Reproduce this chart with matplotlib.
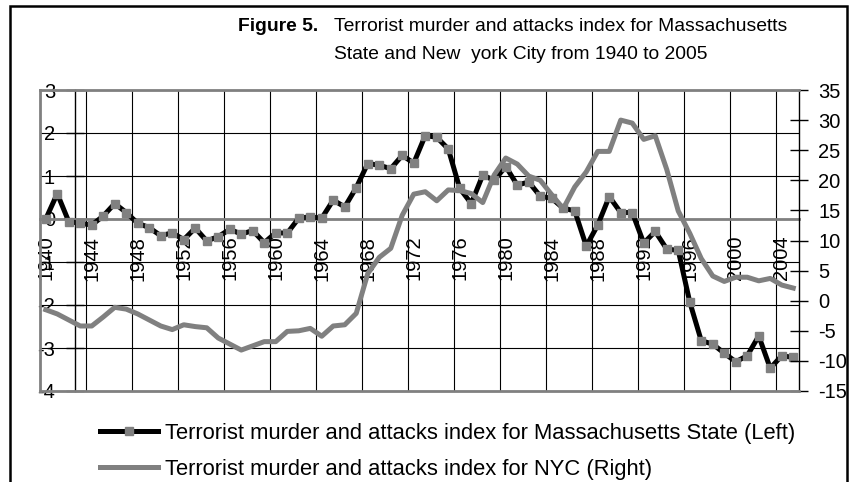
import matplotlib
matplotlib.use("Agg")
import matplotlib.pyplot as plt
from matplotlib.patches import Rectangle

plt.rcParams['font.family'] = ['Liberation Sans', 'DejaVu Sans']
plt.rcParams['axes.unicode_minus'] = False

# Data
years = list(range(1940, 2006))

# Massachusetts State index (left axis)
ma_index = [0.00, 0.59, -0.06, -0.10, -0.14, 0.07, 0.36, 0.15, -0.10, -0.20,
            -0.39, -0.32, -0.48, -0.21, -0.51, -0.41, -0.24, -0.35, -0.27, -0.55,
            -0.32, -0.33, 0.02, 0.05, 0.02, 0.44, 0.28, 0.73, 1.29, 1.25,
            1.17, 1.48, 1.30, 1.94, 1.90, 1.63, 0.71, 0.36, 1.02, 0.90,
            1.22, 0.79, 0.86, 0.53, 0.48, 0.25, 0.19, -0.63, -0.14, 0.52,
            0.15, 0.15, -0.56, -0.29, -0.70, -0.73, -1.93, -2.83, -2.91, -3.12,
            -3.32, -3.18, -2.72, -3.47, -3.18, -3.22]

# NYC index (right axis)
nyc_index = [-1.5, -2.2, -3.2, -4.2, -4.2, -2.7, -1.1, -1.4, -2.2, -3.2,
             -4.2, -4.8, -4.0, -4.3, -4.5, -6.2, -7.2, -8.2, -7.5, -6.8,
             -6.8, -5.1, -5.0, -4.6, -5.9, -4.2, -4.0, -2.1, 4.5, 7.2,
             8.7, 14.2, 17.7, 18.1, 16.6, 18.4, 18.3, 17.8, 16.3, 20.9,
             23.7, 22.7, 20.7, 20.0, 17.6, 15.3, 18.9, 21.4, 24.8, 24.8,
             30.0, 29.5, 26.8, 27.4, 21.8, 14.9, 11.2, 7.0, 4.1, 3.2,
             3.9, 3.9, 3.3, 3.7, 2.6, 2.1]

left_ticks = [-4, -3, -2, -1, 0, 1, 2, 3]
right_ticks = [-15, -10, -5, 0, 5, 10, 15, 20, 25, 30, 35]
label_years = list(range(1940, 2005, 4))
grid_years = [y - 0.5 for y in range(1944, 2005, 4)]

ma_label = 'Terrorist murder and attacks index for Massachusetts State (Left)'
nyc_label = 'Terrorist murder and attacks index for NYC (Right)'

fig = plt.figure(figsize=(8.5, 4.82), dpi=100)
ax = fig.add_axes([40 / 850, 1 - 391 / 482, 759 / 850, 301 / 482])
ax2 = ax.twinx()

ma_line, = ax.plot(years, ma_index, color='black', lw=3.6, marker='s', ms=6,
                   mfc='#808080', mec='#808080', zorder=3)
nyc_line, = ax2.plot(years, nyc_index, color='#808080', lw=3.6)

ax.set_xlim(1939.5, 2005.5)
ax.set_ylim(-4, 3)
ax2.set_ylim(-15, 35)

# left value axis crosses the category axis a few years in
ax.spines['left'].set_position(('data', 1942.5))
ax.spines['left'].set_linewidth(1)
ax.spines['bottom'].set_position(('data', 0))
ax.spines['bottom'].set_color('#808080')
ax.spines['bottom'].set_linewidth(2)
ax.spines['top'].set_visible(False)
ax.spines['right'].set_visible(False)

for side in ['left', 'top', 'bottom']:
    ax2.spines[side].set_color('#808080')
    ax2.spines[side].set_linewidth(2)
ax2.spines['right'].set_linewidth(1)

ax.set_yticks(left_ticks)
ax.tick_params(axis='y', direction='inout', length=13, width=1, labelsize=14.5, pad=7.5)
ax.set_xticks(label_years)
ax.set_xticks(grid_years, minor=True)
ax.tick_params(axis='x', which='major', length=0, labelsize=14.5, pad=12, labelrotation=90)
ax.tick_params(axis='x', which='minor', length=0)
ax.grid(axis='y', color='black', lw=0.8)
ax.grid(axis='x', which='minor', color='black', lw=0.8)

ax2.set_yticks(right_ticks)
ax2.tick_params(axis='y', direction='inout', length=13, width=1, labelsize=14.5, pad=7.5)

# title with hanging indent
fig.text(238 / 850, 1 - 31 / 482, 'Figure 5.', fontsize=13.9, weight='bold', va='baseline')
fig.text(334 / 850, 1 - 31 / 482, 'Terrorist murder and attacks index for Massachusetts',
         fontsize=13.9, va='baseline')
fig.text(334 / 850, 1 - 59 / 482, 'State and New  york City from 1940 to 2005',
         fontsize=13.9, va='baseline')

fig.legend([ma_line, nyc_line], [ma_label, nyc_label], loc='upper left',
           bbox_to_anchor=(100 / 850, 1 - 423 / 482), frameon=False, fontsize=15.8,
           handlelength=2.65, handletextpad=0.32, labelspacing=0.68,
           borderpad=0, borderaxespad=0, numpoints=1)

fig.add_artist(Rectangle((10 / 850, -0.1), 837 / 850, 1.1 - 6 / 482, fill=False,
                         edgecolor='black', lw=1.8, transform=fig.transFigure,
                         clip_on=False))

fig.savefig('out.png', dpi=100)
